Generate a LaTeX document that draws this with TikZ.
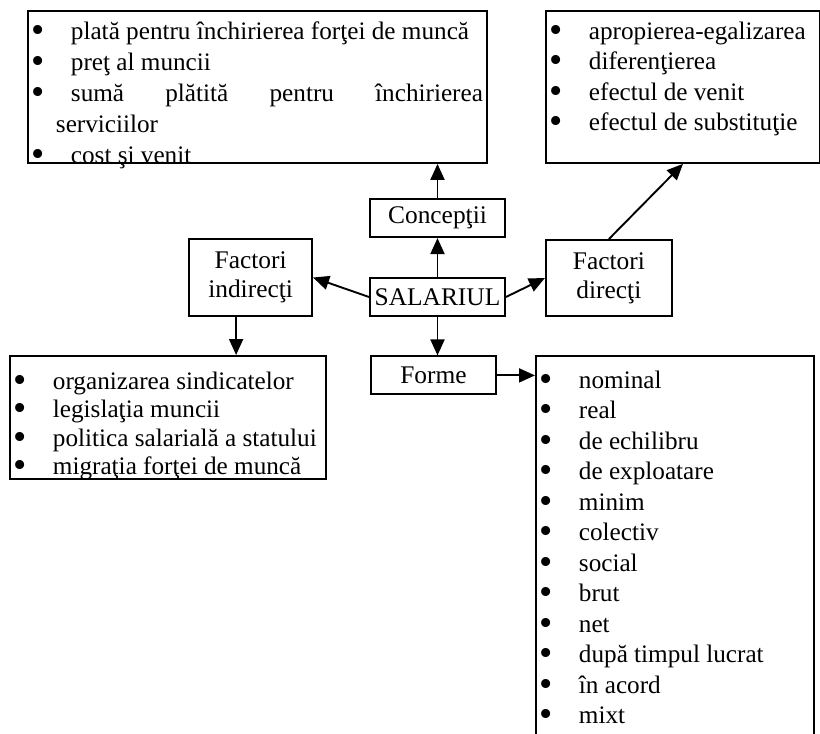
\documentclass[tikz,border=0pt]{standalone}
\usepackage{graphicx}
\usepackage{fontspec}
\setmainfont{Liberation Serif}
\usetikzlibrary{arrows.meta,positioning,calc}
\newcommand{\bul}{\makebox[21.5pt][l]{\hspace{1.8pt}\raisebox{-1.5pt}{\scalebox{1.5}{\textbullet}}}}

\begin{document}
\begin{tikzpicture}[x=0.5pt, y=-0.5pt, font=\fontsize{12.7}{14.5}\selectfont,
  >={Triangle[length=8pt,width=7pt]},
  caseta/.style={draw, line width=0.95pt, align=center, inner sep=0pt},
  lista/.style={draw, line width=0.95pt, anchor=north west, inner sep=0pt},
  sag/.style={->, line width=0.95pt}]
  \useasboundingbox (0,0) rectangle (820,734);
  % centru
  \node[caseta, minimum width=67.5pt, minimum height=19pt] (sal) at (437.5,297) {SALARIUL};
  \node[caseta, minimum width=67.5pt, minimum height=19pt, above=19.5pt of sal] (conc) {Concepţii};
  \node[caseta, minimum width=61.5pt, minimum height=38.5pt, left=28pt of sal, yshift=9.75pt] (fi) {Factori\\indirecţi};
  \node[caseta, minimum width=63pt, minimum height=38pt, right=19.5pt of sal, yshift=9.5pt] (fd) {Factori\\direcţi};
  \node[caseta, minimum width=62.5pt, minimum height=19pt, below=19.25pt of sal, xshift=-2pt] (forme) {Forme};
  % liste
  \node[lista] (lconc) at (27,10) {\parbox[c][76pt][t]{229.5pt}{\fontsize{12.6}{15.5}\selectfont
    \rule{0pt}{14.25pt}\bul plată pentru închirierea forţei de muncă\\
    \bul preţ al muncii\\
    \bul\makebox[206pt][s]{sumă\hfill plătită\hfill pentru\hfill închirierea}\\
    \hspace*{14pt}serviciilor\\
    \bul cost şi venit}};
  \node[lista] (lfd) at (545,10) {\parbox[c][76pt][t]{137pt}{\fontsize{12.6}{15.25}\selectfont
    \rule{0pt}{14.25pt}\bul apropierea-egalizarea\\
    \bul diferenţierea\\
    \bul efectul de venit\\
    \bul efectul de substituţie}};
  \node[lista] (lfi) at (9,355) {\parbox[c][61.5pt][t]{158pt}{\fontsize{12.6}{14.2}\selectfont
    \rule{0pt}{16.75pt}\bul organizarea sindicatelor\\
    \bul legislaţia muncii\\
    \bul politica salarială a statului\\
    \bul migraţia forţei de muncă}};
  \node[lista] (lforme) at (535,355) {\parbox[c][200pt][t]{139pt}{\fontsize{12.6}{15.25}\selectfont
    \rule{0pt}{16.25pt}\bul nominal\\
    \bul real\\
    \bul de echilibru\\
    \bul de exploatare\\
    \bul minim\\
    \bul colectiv\\
    \bul social\\
    \bul brut\\
    \bul net\\
    \bul după timpul lucrat\\
    \bul în acord\\
    \bul mixt}};
  % sageti
  \draw[sag] (sal) -- (conc);
  \draw[sag] (conc.north) -- (conc.north |- lconc.south);
  \draw[sag] (sal.west) -- (fi.east);
  \draw[sag] (sal.east) -- (fd.west);
  \draw[sag] (fd.north) -- (lfd.south);
  \draw[sag] ([xshift=-7.25pt]fi.south) -- ([xshift=-7.25pt]fi.south |- lfi.north);
  \draw[sag] (sal.south) -- (sal.south |- forme.north);
  \draw[sag] (forme.east) -- (forme.east -| lforme.west);
\end{tikzpicture}
\end{document}
